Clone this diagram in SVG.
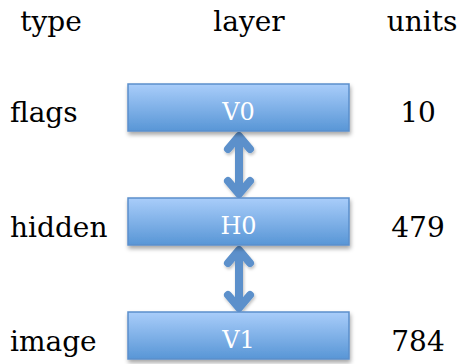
<svg xmlns="http://www.w3.org/2000/svg" width="460" height="364" viewBox="0 0 460 364">
<defs>
<linearGradient id="g" x1="0" y1="0" x2="0" y2="1">
<stop offset="0" stop-color="#a9cdfa"/>
<stop offset="1" stop-color="#5896d6"/>
</linearGradient>
<filter id="sh" x="-10%" y="-20%" width="120%" height="160%">
<feDropShadow dx="1" dy="3" stdDeviation="2" flood-color="#000" flood-opacity="0.35"/>
</filter>
<filter id="ash" x="-50%" y="-20%" width="200%" height="140%">
<feDropShadow dx="1" dy="2" stdDeviation="1.5" flood-color="#000" flood-opacity="0.25"/>
</filter>
</defs>
<style>
.lbl{font-family:"DejaVu Serif","Liberation Serif",serif;font-size:28px;fill:#000}
.box{fill:url(#g);stroke:#5b8fcb;stroke-width:1.5;filter:url(#sh)}
.bt{font-family:"DejaVu Serif","Liberation Serif",serif;font-size:24px;fill:#fff;text-anchor:middle}
.arr{fill:none;stroke:#5b90cb;stroke-width:8;stroke-linecap:round;stroke-linejoin:round;filter:url(#ash)}
</style>
<rect width="460" height="364" fill="#fff"/>
<g id="headers">
<text class="lbl" x="51" y="31" text-anchor="middle">type</text>
<text class="lbl" x="249" y="31" text-anchor="middle">layer</text>
<text class="lbl" x="422" y="31" text-anchor="middle">units</text>
</g>
<g id="connectors">
<path class="arr" d="M239,137 L239,193 M228,149 L239,136 L250,149 M228,181 L239,194 L250,181"/>
<path class="arr" d="M239,251 L239,307 M228,263 L239,250 L250,263 M228,295 L239,308 L250,295"/>
</g>
<g id="V0">
<rect class="box" x="128" y="84" width="221" height="47"/>
<text class="bt" x="238.5" y="120">V0</text>
</g>
<g id="H0">
<rect class="box" x="128" y="198" width="221" height="47"/>
<text class="bt" x="238.5" y="234">H0</text>
</g>
<g id="V1">
<rect class="box" x="128" y="312" width="221" height="47"/>
<text class="bt" x="238.5" y="348">V1</text>
</g>
<g id="row-flags">
<text class="lbl" x="10" y="122">flags</text>
<text class="lbl" x="418" y="122" text-anchor="middle">10</text>
</g>
<g id="row-hidden">
<text class="lbl" x="10" y="237">hidden</text>
<text class="lbl" x="418" y="237" text-anchor="middle">479</text>
</g>
<g id="row-image">
<text class="lbl" x="10" y="351">image</text>
<text class="lbl" x="418" y="351" text-anchor="middle">784</text>
</g>
</svg>
